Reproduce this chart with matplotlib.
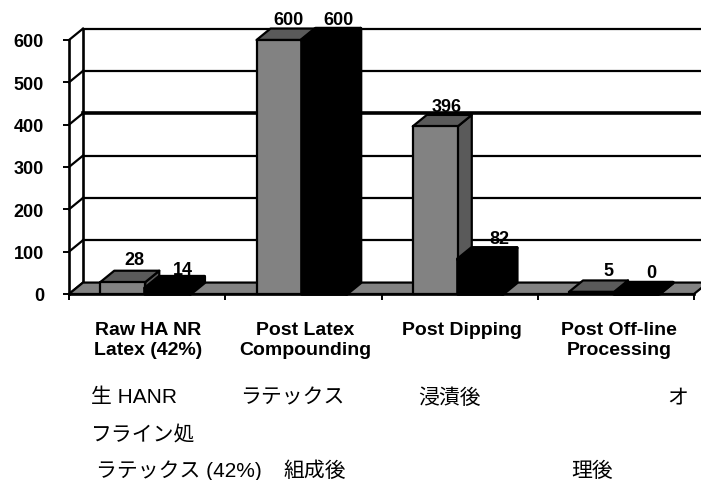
import matplotlib
matplotlib.use("Agg")
import matplotlib.pyplot as plt
from matplotlib.patches import Polygon

# === Data ===

categories = [
    "Raw HA NR\nLatex (42%)",
    "Post Latex\nCompounding",
    "Post Dipping",
    "Post Off-line\nProcessing",
]
series_gray = [28, 600, 396, 5]
series_black = [14, 600, 82, 0]
y_ticks = [0, 100, 200, 300, 400, 500, 600]

# === Layout (pixels of a 701x481 figure) ===

W, H = 701, 481
AX_LEFT, AX_RIGHT = 69, 694
AX_TOP, AX_BOTTOM = 41, 295

DEPTH_X = 14 / 156  # in category units
DEPTH_Y = 27  # in value units
BAR_GAP = 0.2
BAR_W = 0.288

GRAY = "#828282"
GRAY_DARK = "#5a5a5a"
LW = 1.6

plt.rcParams["font.family"] = ["Liberation Sans", "Noto Sans CJK JP"]

fig = plt.figure(figsize=(W / 100, H / 100), dpi=100)
ax = fig.add_axes(
    [
        AX_LEFT / W,
        1 - AX_BOTTOM / H,
        (AX_RIGHT - AX_LEFT) / W,
        (AX_BOTTOM - AX_TOP) / H,
    ]
)
ax.set_xlim(0, len(categories))
ax.set_ylim(0, 600)
ax.patch.set_visible(False)

for name in ["top", "right"]:
    ax.spines[name].set_visible(False)
ax.spines["left"].set_linewidth(LW + 0.3)
ax.spines["bottom"].set_linewidth(LW + 0.3)
ax.spines["left"].set_zorder(1)

ax.set_xticks(range(len(categories) + 1))
ax.set_xticklabels([])
ax.set_yticks(y_ticks)
ax.set_yticklabels([str(t) for t in y_ticks], fontweight="bold", fontsize=13)
ax.tick_params(axis="y", length=4, width=1.4, pad=14)
ax.tick_params(axis="x", length=4, width=1.4)

# === Back wall and floor ===

right = len(categories)
for t in y_ticks:
    lw = 2.6 if t == 400 else LW
    if t > 0:
        ax.plot(
            [DEPTH_X, right + DEPTH_X],
            [t + DEPTH_Y, t + DEPTH_Y],
            color="black",
            lw=lw,
            clip_on=False,
            zorder=1,
        )
    ax.plot(
        [0, DEPTH_X],
        [t, t + DEPTH_Y],
        color="black",
        lw=LW,
        clip_on=False,
        zorder=1,
    )
ax.plot(
    [DEPTH_X, DEPTH_X],
    [DEPTH_Y, 600 + DEPTH_Y],
    color="black",
    lw=LW + 0.3,
    clip_on=False,
    zorder=1,
)
ax.add_patch(
    Polygon(
        [(0, 0), (right, 0), (right + DEPTH_X, DEPTH_Y), (DEPTH_X, DEPTH_Y)],
        facecolor=GRAY,
        edgecolor="black",
        lw=LW,
        clip_on=False,
        zorder=1.5,
    )
)


def draw_bar(x0, value, front, top, side, z, lw):
    x1 = x0 + BAR_W
    faces = [
        ([(x1, 0), (x1 + DEPTH_X, DEPTH_Y), (x1 + DEPTH_X, value + DEPTH_Y), (x1, value)], side),
        ([(x0, value), (x1, value), (x1 + DEPTH_X, value + DEPTH_Y), (x0 + DEPTH_X, value + DEPTH_Y)], top),
        ([(x0, 0), (x1, 0), (x1, value), (x0, value)], front),
    ]
    for pts, color in faces:
        ax.add_patch(
            Polygon(
                pts,
                facecolor=color,
                edgecolor="black",
                lw=lw,
                joinstyle="round",
                clip_on=False,
                zorder=z,
            )
        )


# === Bars and value labels ===

label_nudge_gray = [(12, 3), (10, 1), (11, 0), (17, 1)]
label_nudge_black = [(15, -1), (14, 1), (19, 1), (15, 2)]

for i, (g, b) in enumerate(zip(series_gray, series_black)):
    x_g = i + BAR_GAP
    x_b = x_g + BAR_W
    draw_bar(x_g, g, GRAY, GRAY_DARK, GRAY_DARK, 2 + i, LW)
    draw_bar(x_b, b, "black", "black", "black", 2.5 + i, LW + 1)
    for x0, v, nudge in [
        (x_g, g, label_nudge_gray[i]),
        (x_b, b, label_nudge_black[i]),
    ]:
        ax.annotate(
            str(v),
            xy=(x0 + BAR_W / 2, v + DEPTH_Y),
            xytext=(nudge[0] * 0.72, nudge[1] * 0.72),
            textcoords="offset points",
            ha="center",
            va="bottom",
            fontsize=13,
            fontweight="bold",
            annotation_clip=False,
            zorder=10,
        )

# === Category labels ===

label_centers = [148, 305, 462, 619]
for cx, label in zip(label_centers, categories):
    fig.text(
        cx / W,
        1 - 322 / H,
        label,
        ha="center",
        va="top",
        fontsize=14,
        fontweight="bold",
        linespacing=1.22,
    )

# === Japanese captions ===

caption_rows = [
    (398, [(91, "生 HANR"), (240, "ラテックス"), (418, "浸漬後"), (667, "オ")]),
    (435, [(91, "フライン処")]),
    (471, [(96, "ラテックス (42%)"), (284, "組成後"), (571, "理後")]),
]
for y, items in caption_rows:
    for x, text in items:
        fig.text(x / W, 1 - y / H, text, ha="left", va="center", fontsize=15)

fig.savefig("out.png", dpi=100)
